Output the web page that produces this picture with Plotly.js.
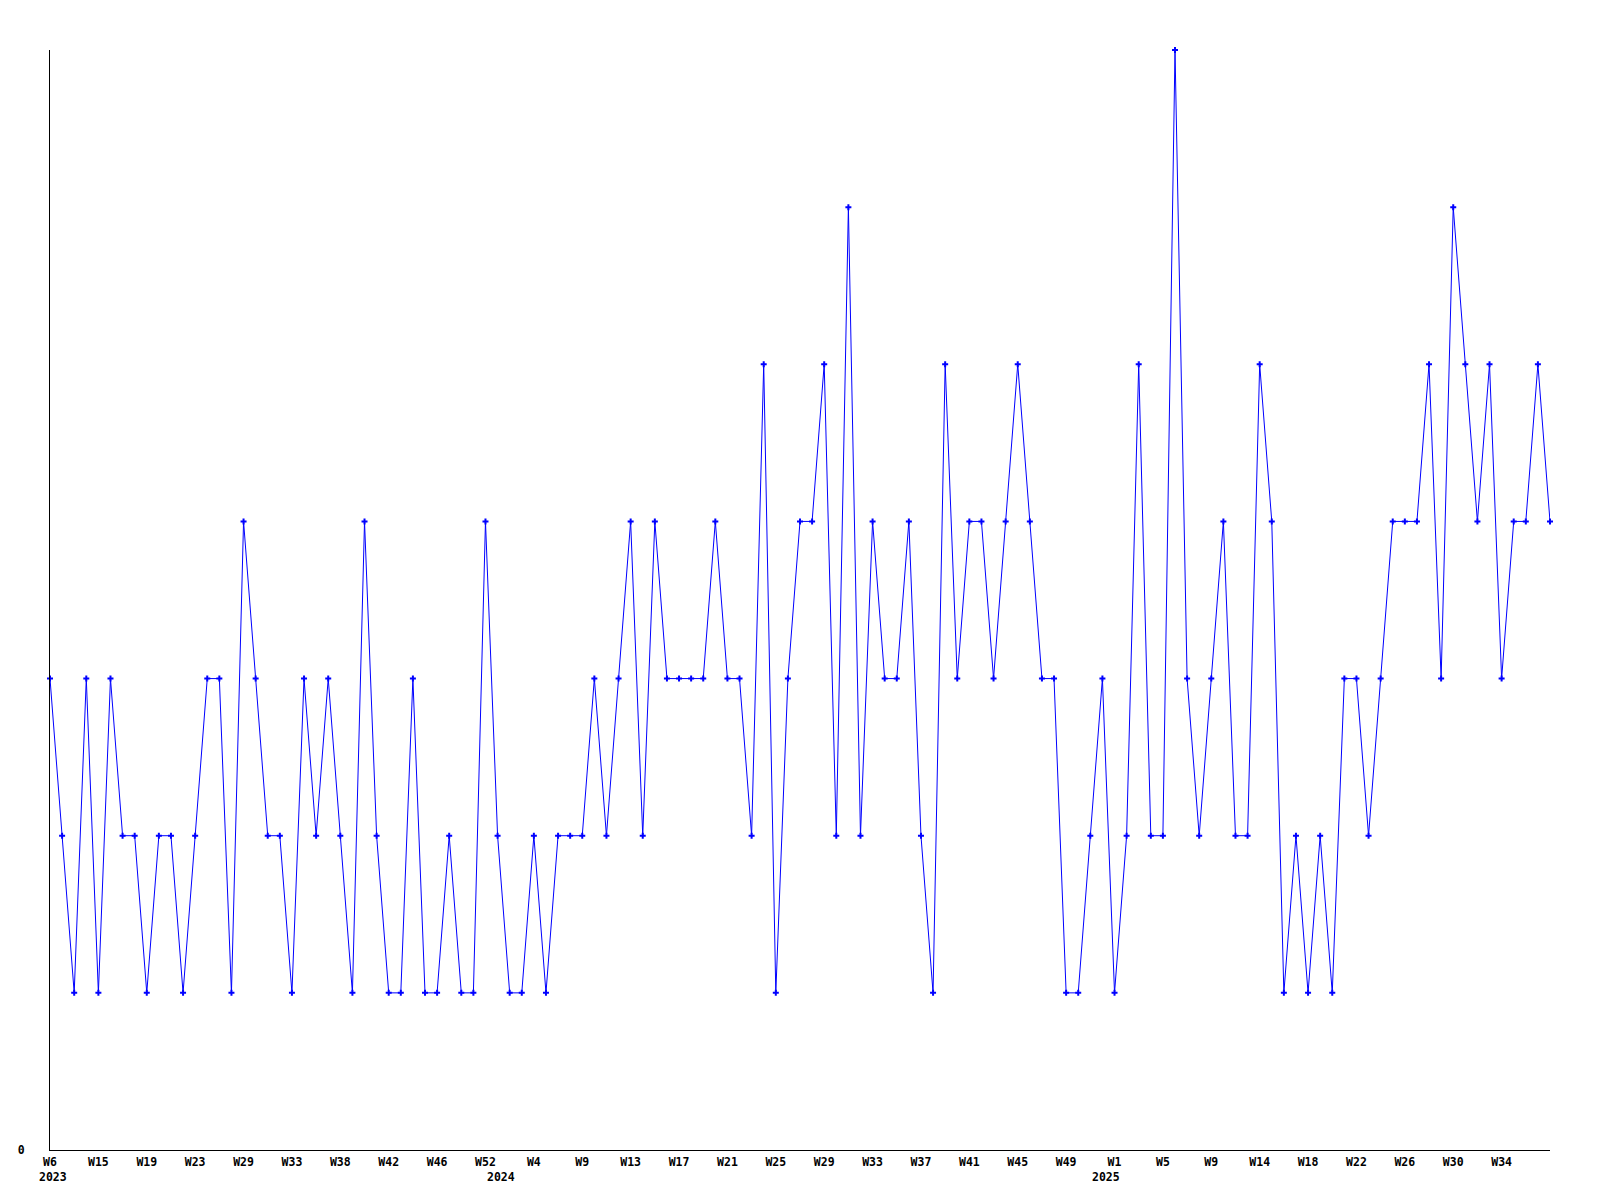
<!DOCTYPE html>
<html>
<head>
<meta charset="utf-8">
<script src="https://cdn.plot.ly/plotly-3.0.1.min.js"></script>
<style>
  html, body { margin: 0; padding: 0; background: #ffffff; }
  #chart { width: 1600px; height: 1200px; }
</style>
</head>
<body>
<div id="chart"></div>
<script>
// ISO weeks (categories), in order
const weeks = [
  "2023-W06","2023-W12","2023-W13","2023-W14","2023-W15","2023-W16","2023-W17","2023-W18",
  "2023-W19","2023-W20","2023-W21","2023-W22","2023-W23","2023-W24","2023-W25","2023-W27",
  "2023-W29","2023-W30","2023-W31","2023-W32","2023-W33","2023-W34","2023-W35","2023-W37",
  "2023-W38","2023-W39","2023-W40","2023-W41","2023-W42","2023-W43","2023-W44","2023-W45",
  "2023-W46","2023-W47","2023-W49","2023-W51","2023-W52",
  "2024-W01","2024-W02","2024-W03","2024-W04","2024-W05","2024-W06","2024-W08","2024-W09",
  "2024-W10","2024-W11","2024-W12","2024-W13","2024-W14","2024-W15","2024-W16","2024-W17",
  "2024-W18","2024-W19","2024-W20","2024-W21","2024-W22","2024-W23","2024-W24","2024-W25",
  "2024-W26","2024-W27","2024-W28","2024-W29","2024-W30","2024-W31","2024-W32","2024-W33",
  "2024-W34","2024-W35","2024-W36","2024-W37","2024-W38","2024-W39","2024-W40","2024-W41",
  "2024-W42","2024-W43","2024-W44","2024-W45","2024-W46","2024-W47","2024-W48","2024-W49",
  "2024-W50","2024-W51","2024-W52",
  "2025-W01","2025-W02","2025-W03","2025-W04","2025-W05","2025-W06","2025-W07","2025-W08",
  "2025-W09","2025-W10","2025-W11","2025-W13","2025-W14","2025-W15","2025-W16","2025-W17",
  "2025-W18","2025-W19","2025-W20","2025-W21","2025-W22","2025-W23","2025-W24","2025-W25",
  "2025-W26","2025-W27","2025-W28","2025-W29","2025-W30","2025-W31","2025-W32","2025-W33",
  "2025-W34","2025-W35","2025-W36","2025-W37","2025-W38"
];

// weekly counts
const counts = [
  3,2,1,3,1,3,2,2,1,2,2,1,2,3,3,1,4,3,2,2,
  1,3,2,3,2,1,4,2,1,1,3,1,1,2,1,1,4,2,1,1,
  2,1,2,2,2,3,2,3,4,2,4,3,3,3,3,4,3,3,2,5,
  1,3,4,4,5,2,6,2,4,3,3,4,2,1,5,3,4,4,3,4,
  5,4,3,3,1,1,2,3,1,2,5,2,2,7,3,2,3,4,2,2,
  5,4,1,2,1,2,1,3,3,2,3,4,4,4,5,3,6,5,4,5,3,4,4,5,4
];

// labelled x ticks
const tickWeeks = [
  "2023-W06","2023-W15","2023-W19","2023-W23","2023-W29","2023-W33","2023-W38","2023-W42",
  "2023-W46","2023-W52","2024-W04","2024-W09","2024-W13","2024-W17","2024-W21","2024-W25",
  "2024-W29","2024-W33","2024-W37","2024-W41","2024-W45","2024-W49","2025-W01","2025-W05",
  "2025-W09","2025-W14","2025-W18","2025-W22","2025-W26","2025-W30","2025-W34"
];
const tickLabels = [
  "W6","W15","W19","W23","W29","W33","W38","W42","W46","W52","W4",
  "W9","W13","W17","W21","W25","W29","W33","W37","W41","W45","W49",
  "W1","W5","W9","W14","W18","W22","W26","W30","W34"
];

// year labels under the first week of each year
const yearLabels = ["2023","2024","2025"];
const yearStarts = ["2023-W06","2024-W01","2025-W01"];
const yearShifts = [3, 3, -9];

// y-axis ticks
const yTickVals = [0];
const yTickText = ["0"];

const FONT = { family: "DejaVu Sans Mono, Liberation Mono, monospace", size: 11.5, color: "#000000", weight: "bold" };

const trace = {
  type: "scatter",
  mode: "lines+markers",
  x: weeks,
  y: counts,
  line: { color: "#0000ff", width: 1 },
  marker: { color: "#0000ff", symbol: "cross", size: 5 },
  cliponaxis: false,
  hoverinfo: "x+y"
};

const annotations = yearLabels.map((t, k) => ({
  text: t,
  xref: "x",
  yref: "paper",
  x: weeks.indexOf(yearStarts[k]),
  y: 0,
  xanchor: "center",
  yanchor: "top",
  xshift: yearShifts[k],
  yshift: -18,
  showarrow: false,
  font: FONT
}));

const layout = {
  width: 1600,
  height: 1200,
  margin: { l: 50, r: 50, t: 50, b: 50 },
  paper_bgcolor: "#ffffff",
  plot_bgcolor: "#ffffff",
  showlegend: false,
  font: FONT,
  xaxis: {
    type: "category",
    range: [0, weeks.length - 1],
    tickmode: "array",
    tickvals: tickWeeks,
    ticktext: tickLabels,
    ticks: "",
    ticklabelstandoff: 1,
    showgrid: false,
    zeroline: false,
    showline: true,
    linecolor: "#000000",
    linewidth: 1,
    tickfont: FONT
  },
  yaxis: {
    range: [0, 7],
    tickmode: "array",
    tickvals: yTickVals,
    ticktext: yTickText,
    ticks: "",
    ticklabelstandoff: 22,
    showgrid: false,
    zeroline: false,
    showline: true,
    linecolor: "#000000",
    linewidth: 1,
    tickfont: FONT
  },
  annotations: annotations
};

Plotly.newPlot("chart", [trace], layout, { staticPlot: true, displayModeBar: false });
</script>
</body>
</html>
